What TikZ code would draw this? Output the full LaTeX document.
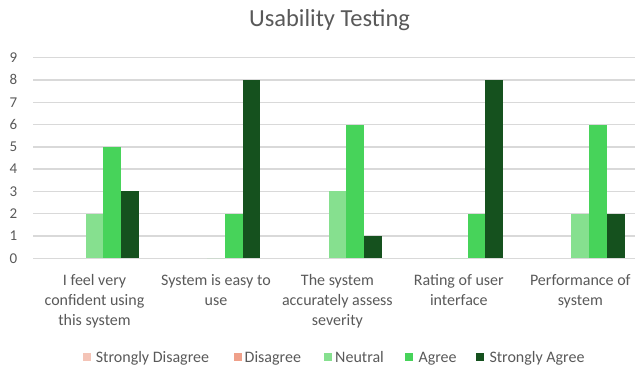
\documentclass[tikz,border=0pt]{standalone}
\usepackage{fontspec}
\setmainfont{Carlito}
\definecolor{labelgray}{HTML}{595959}
\definecolor{gridgray}{HTML}{D9D9D9}
\definecolor{sdis}{HTML}{F4C4B7}
\definecolor{dis}{HTML}{EFA08A}
\definecolor{neu}{HTML}{86E08F}
\definecolor{agr}{HTML}{47D35A}
\definecolor{sagr}{HTML}{15511E}

\begin{document}
\begin{tikzpicture}[x=1pt, y=-1pt,
    axislabel/.style={text=labelgray, font=\fontsize{16}{20}\selectfont, inner sep=0pt},
    gridline/.style={draw=gridgray, line width=1.4pt},
    keybox/.style={minimum size=8pt, inner sep=0pt}]
    \useasboundingbox (0,0) rectangle (635,368);

    % Title
    \node[axislabel, font=\fontsize{24.5}{28}\selectfont, anchor=base] (title) at (329.5,26.7) {Usability Testing};

    % Grid and y axis
    \foreach \v in {0,...,9} {
        \draw[gridline] (33.3,{258.3-22.3*\v}) -- (635,{258.3-22.3*\v});
        \node[axislabel, font=\fontsize{15}{18}\selectfont, anchor=east] (tick\v) at (17.5,{258.3-22.3*\v}) {\v};
    }

    % Bars (category / neutral / agree / strongly agree)
    \foreach \c/\n/\a/\s in {0/2/5/3, 1/0/2/8, 2/3/6/1, 3/0/2/8, 4/2/6/2} {
        \pgfmathsetmacro\cx{94.5+121.45*\c}
        \fill[neu] (\cx-8.85,258.3) rectangle (\cx+8.85,{258.3-22.3*\n});
        \fill[agr] (\cx+8.85,258.3) rectangle (\cx+26.55,{258.3-22.3*\a});
        \fill[sagr] (\cx+26.55,258.3) rectangle (\cx+44.25,{258.3-22.3*\s});
    }

    % Category labels
    \node[axislabel, anchor=north, align=center] (cat1) at (94.5,274.5) {I feel very\\confident using\\this system};
    \node[axislabel, anchor=north, align=center] (cat2) at (215.95,274.5) {System is easy to\\use};
    \node[axislabel, anchor=north, align=center] (cat3) at (337.4,274.5) {The system\\accurately assess\\severity};
    \node[axislabel, anchor=north, align=center] (cat4) at (458.85,274.5) {Rating of user\\interface};
    \node[axislabel, anchor=north, align=center] (cat5) at (580.3,274.5) {Performance of\\system};

    % Legend
    \node[keybox, fill=sdis] (ksd) at (86.7,357.3) {};
    \node[axislabel, anchor=base west] (lsd) at (95.7,362.3) {Strongly Disagree};
    \node[keybox, fill=dis] (kd) at (238,357.3) {};
    \node[axislabel, anchor=base west] (ld) at (244.5,362.3) {Disagree};
    \node[keybox, fill=neu] (kn) at (328.2,357.3) {};
    \node[axislabel, anchor=base west] (ln) at (335,362.3) {Neutral};
    \node[keybox, fill=agr] (ka) at (409,357.3) {};
    \node[axislabel, anchor=base west] (la) at (418.3,362.3) {Agree};
    \node[keybox, fill=sagr] (ksa) at (480,357.3) {};
    \node[axislabel, anchor=base west] (lsa) at (489.3,362.3) {Strongly Agree};

\end{tikzpicture}
\end{document}
